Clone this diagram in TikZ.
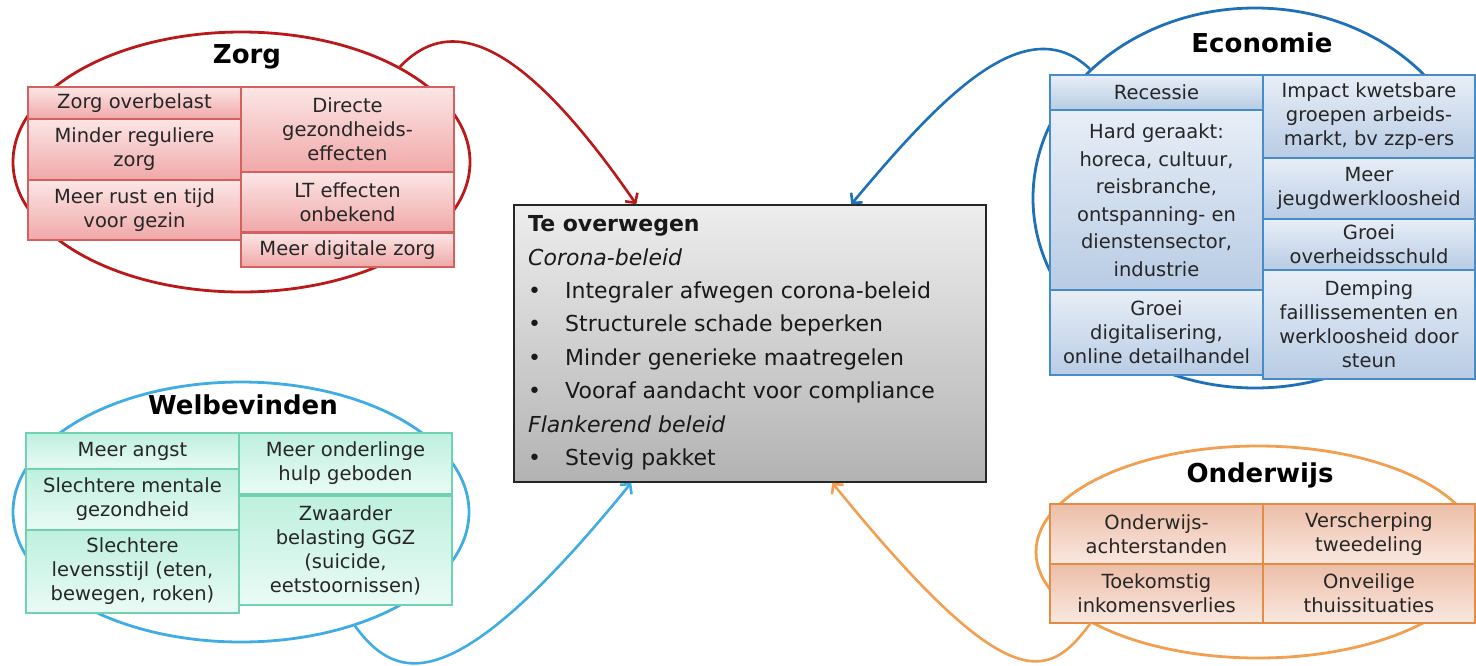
\documentclass[tikz,border=0pt]{standalone}
\usepackage{fontspec}
\setmainfont{DejaVu Sans}
\usetikzlibrary{positioning,arrows.meta,shapes.geometric}

\definecolor{zorgline}{RGB}{185,25,25}
\definecolor{zorgedge}{RGB}{212,96,96}
\definecolor{zorgtop}{RGB}{252,230,230}
\definecolor{zorgbot}{RGB}{240,168,168}
\definecolor{econline}{RGB}{30,112,184}
\definecolor{econedge}{RGB}{70,140,200}
\definecolor{econtop}{RGB}{232,238,247}
\definecolor{econbot}{RGB}{184,204,228}
\definecolor{welbline}{RGB}{64,172,228}
\definecolor{welbedge}{RGB}{112,210,176}
\definecolor{welbtop}{RGB}{190,240,222}
\definecolor{welbbot}{RGB}{234,251,245}
\definecolor{onderline}{RGB}{240,160,80}
\definecolor{onderedge}{RGB}{226,140,70}
\definecolor{ondertop}{RGB}{236,190,168}
\definecolor{onderbot}{RGB}{250,232,224}

\begin{document}
\begin{tikzpicture}
  [x=1pt,y=-1pt,
   box/.style={draw,rectangle,align=center,inner sep=0pt,outer sep=0pt,
     minimum width=213pt,line width=1.2pt,text=black!85,
     font=\fontsize{19.5}{24}\selectfont},
   zorgbox/.style={box,draw=zorgedge,top color=zorgtop,bottom color=zorgbot},
   econbox/.style={box,draw=econedge,top color=econtop,bottom color=econbot},
   welbbox/.style={box,draw=welbedge,top color=welbtop,bottom color=welbbot},
   onderbox/.style={box,draw=onderedge,top color=ondertop,bottom color=onderbot},
   themering/.style={ellipse,draw,line width=2.8pt,inner sep=0pt},
   theme/.style={font=\bfseries\fontsize{26}{30}\selectfont},
   link/.style={line width=2.6pt,-{Straight Barb[length=7pt,width=15pt]}}]
  \useasboundingbox (0,0) rectangle (1476,665);

  % the four themes
  \node[themering,draw=zorgline,minimum width=457pt,minimum height=260pt] (zorg) at (241.5,162) {};
  \node[themering,draw=econline,minimum width=444pt,minimum height=380pt] (econ) at (1255,198) {};
  \node[themering,draw=welbline,minimum width=456pt,minimum height=260pt] (welb) at (241,512) {};
  \node[themering,draw=onderline,minimum width=444pt,minimum height=212pt] (onder) at (1258,552) {};

  \node[theme] (zorgtitle) at (247,57) {Zorg};
  \node[theme] (econtitle) at (1262,43) {Economie};
  \node[theme] (welbtitle) at (243,405) {Welbevinden};
  \node[theme] (ondertitle) at (1260,475) {Onderwijs};

  % Zorg
  \node[zorgbox,minimum height=32pt] (zo1) at (134.5,103) {Zorg overbelast};
  \node[zorgbox,minimum height=61pt] (zo2) [below=0pt of zo1] {Minder reguliere\\zorg};
  \node[zorgbox,minimum height=60pt] (zo3) [below=0pt of zo2] {Meer rust en tijd\\voor gezin};
  \node[zorgbox,minimum height=85pt,anchor=north west] (zo4) at (zo1.north east) {Directe\\gezondheids-\\effecten};
  \node[zorgbox,minimum height=60pt] (zo5) [below=0pt of zo4] {LT effecten\\onbekend};
  \node[zorgbox,minimum height=34pt] (zo6) [below=1pt of zo5] {Meer digitale zorg};

  % Economie
  \node[econbox,minimum height=35pt] (ec1) at (1156.5,92.5) {Recessie};
  \node[econbox,minimum height=180pt,font=\fontsize{19.5}{27.5}\selectfont] (ec2) [below=0pt of ec1]
    {Hard geraakt:\\horeca, cultuur,\\reisbranche,\\ontspanning- en\\dienstensector,\\industrie};
  \node[econbox,minimum height=85pt] (ec3) [below=0pt of ec2] {Groei\\digitalisering,\\online detailhandel};
  \node[econbox,minimum width=212pt,minimum height=83pt,anchor=north west] (ec4) at (ec1.north east)
    {Impact kwetsbare\\groepen arbeids-\\markt, bv zzp-ers};
  \node[econbox,minimum width=212pt,minimum height=61pt] (ec5) [below=0pt of ec4] {Meer\\jeugdwerkloosheid};
  \node[econbox,minimum width=212pt,minimum height=51pt] (ec6) [below=0pt of ec5] {Groei\\overheidsschuld};
  \node[econbox,minimum width=212pt,minimum height=109pt] (ec7) [below=0pt of ec6]
    {Demping\\faillissementen en\\werkloosheid door\\steun};

  % Welbevinden
  \node[welbbox,minimum height=36pt] (we1) at (132.5,451) {Meer angst};
  \node[welbbox,minimum height=61pt] (we2) [below=0pt of we1] {Slechtere mentale\\gezondheid};
  \node[welbbox,minimum height=83pt] (we3) [below=0pt of we2] {Slechtere\\levensstijl (eten,\\bewegen, roken)};
  \node[welbbox,minimum height=61pt,anchor=north west] (we4) at (we1.north east) {Meer onderlinge\\hulp geboden};
  \node[welbbox,minimum height=109pt] (we5) [below=2pt of we4] {Zwaarder\\belasting GGZ\\(suicide,\\eetstoornissen)};

  % Onderwijs
  \node[onderbox,minimum height=60pt] (on1) at (1156.5,534) {Onderwijs-\\achterstanden};
  \node[onderbox,minimum height=59pt] (on2) [below=0pt of on1] {Toekomstig\\inkomensverlies};
  \node[onderbox,minimum width=212pt,minimum height=60pt,anchor=north west] (on3) at (on1.north east) {Verscherping\\tweedeling};
  \node[onderbox,minimum width=212pt,minimum height=59pt] (on4) [below=0pt of on3] {Onveilige\\thuissituaties};

  % centre
  \node[draw=black!85,line width=1.5pt,top color=black!7,bottom color=black!30,
        minimum width=472pt,minimum height=277pt,inner sep=0pt] (advice) at (750,343.5) {};
  \node[anchor=north west,align=left,inner sep=0pt,text=black!90,
        font=\fontsize{22}{33.4}\selectfont] (advicetext) at (528,215.5)
    {\textbf{Te overwegen}\\
     \textit{Corona-beleid}\\
     \makebox[37pt][l]{\textbullet}Integraler afwegen corona-beleid\\
     \makebox[37pt][l]{\textbullet}Structurele schade beperken\\
     \makebox[37pt][l]{\textbullet}Minder generieke maatregelen\\
     \makebox[37pt][l]{\textbullet}Vooraf aandacht voor compliance\\
     \textit{Flankerend beleid}\\
     \makebox[37pt][l]{\textbullet}Stevig pakket};

  \coordinate (tipz) at ([xshift=123pt]advice.north west);
  \coordinate (tipe) at ([xshift=338pt]advice.north west);
  \coordinate (tipw) at ([xshift=118pt]advice.south west);
  \coordinate (tipo) at ([xshift=319pt]advice.south west);

  \draw[link,zorgline] (zorg.31) .. controls +(55,-58) and +(-107,-155) .. (tipz);
  \draw[link,econline] (econ.142) .. controls +(-65,-62) and +(88,-105) .. (tipe);
  \draw[link,welbline] (welb.-45) .. controls +(42,57) and +(-177,218) .. (tipw);
  \draw[link,onderline] (onder.-157) .. controls +(-42,57) and +(177,218) .. (tipo);
\end{tikzpicture}
\end{document}
